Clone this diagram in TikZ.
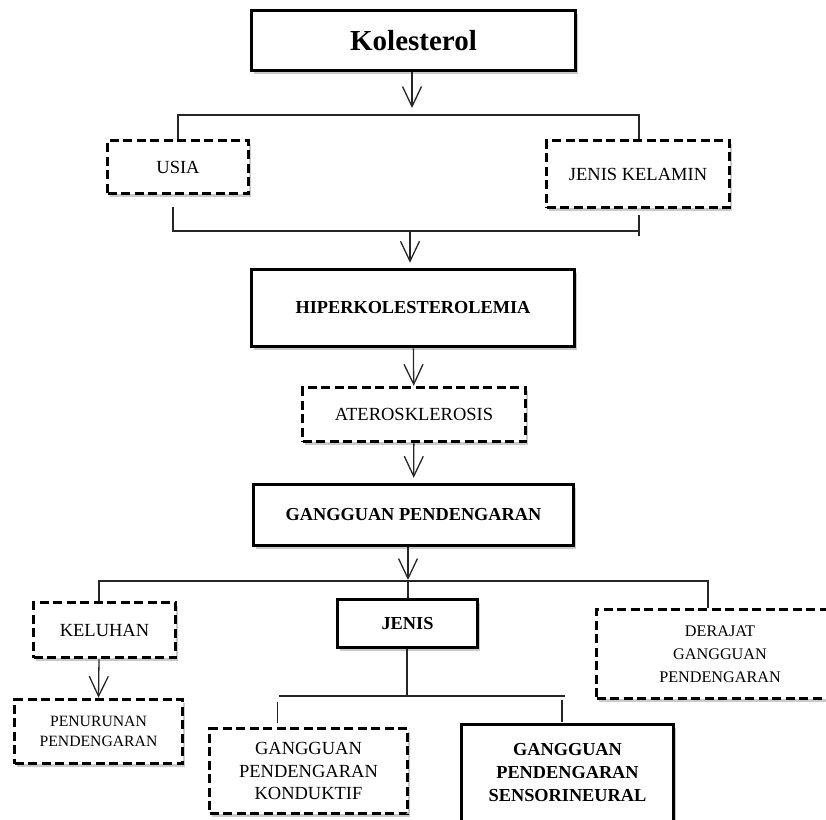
\documentclass[tikz,border=0pt]{standalone}
\usepackage{fontspec}
\setmainfont{Liberation Serif}
\usetikzlibrary{arrows.meta,shadows,calc}

\tikzset{
  box/.style={draw=black, fill=white, line width=3.5pt, align=center, inner sep=0pt,
    drop shadow={shadow xshift=2.5pt, shadow yshift=-3pt, opacity=0.35, fill=black!60}},
  solidbox/.style={box},
  dashbox/.style={box, dash pattern=on 9pt off 4.5pt},
  link/.style={line width=1.3pt, draw=black!85},
  arr/.style={link, -{Straight Barb[length=20pt,width=19pt,line width=1.3pt]}},
  bigtxt/.style={font=\fontsize{29}{34}\selectfont\bfseries},
  txt/.style={font=\fontsize{18.5}{22.5}\selectfont},
  btxt/.style={font=\fontsize{18.3}{23}\selectfont\bfseries},
  smalltxt/.style={font=\fontsize{16.2}{23}\selectfont},
  tinytxt/.style={font=\fontsize{15.7}{19.5}\selectfont},
}

\begin{document}
\begin{tikzpicture}[x=1pt,y=-1pt]
  \useasboundingbox (0,0) rectangle (826,819);
  \node[solidbox, bigtxt, minimum width=324pt, minimum height=60pt] (kol) at (413.5,40.5) {Kolesterol};
  \node[dashbox, txt, minimum width=141pt, minimum height=53pt] (usia) at (178,167) {USIA};
  \node[dashbox, txt, minimum width=183pt, minimum height=67pt] (jk) at (638,174) {JENIS KELAMIN};
  \node[solidbox, btxt, minimum width=323pt, minimum height=77pt] (hiper) at (413,308) {HIPERKOLESTEROLEMIA};
  \node[dashbox, txt, minimum width=223pt, minimum height=54pt] (atero) at (414,414.5) {ATEROSKLEROSIS};
  \node[solidbox, btxt, minimum width=320pt, minimum height=61pt] (gp) at (413.5,515) {GANGGUAN PENDENGARAN};
  \node[dashbox, txt, minimum width=142pt, minimum height=55pt] (kel) at (104.5,630) {KELUHAN};
  \node[solidbox, btxt, minimum width=140pt, minimum height=48pt] (jenis) at (407.5,623.5) {JENIS};
  \node[dashbox, smalltxt, minimum width=247pt, minimum height=89pt] (derajat) at (720,654) {DERAJAT\\GANGGUAN\\PENDENGARAN};
  \node[dashbox, tinytxt, minimum width=168pt, minimum height=64pt] (penur) at (98.5,731.5) {PENURUNAN\\PENDENGARAN};
  \node[dashbox, txt, minimum width=198pt, minimum height=85pt] (kond) at (308.5,771) {GANGGUAN\\PENDENGARAN\\KONDUKTIF};
  \node[solidbox, btxt, minimum width=212pt, minimum height=97pt] (sens) at (567.5,773) {GANGGUAN\\PENDENGARAN\\SENSORINEURAL};

  \coordinate (split1) at (412,115);
  \coordinate (join1) at (410,231);
  \coordinate (split2) at (408,581);
  \coordinate (join2) at (407,696);

  \draw[arr, shorten >=7pt] (kol.south -| split1) -- (split1);
  \draw[link] (usia.north) |- (split1) -| ([xshift=1pt]jk.north);
  \draw[link] ($(usia.south)+(-5,12)$) |- (join1) -- ($(join1 -| jk.south)+(2,0)$);
  \draw[link] ($(jk.south)+(1,6)$) -- ($(jk.south)+(1,27)$);
  \draw[arr, shorten >=5pt] (join1) -- (join1 |- hiper.north);
  \draw[arr] (hiper) -- (atero);
  \draw[arr, shorten >=5pt] (atero) -- (gp);
  \draw[arr, shorten >=1pt] (gp.south -| split2) -- (split2);
  \draw[link] ([xshift=-5.5pt]kel.north) |- (split2) -| ([xshift=-12pt]derajat.north);
  \draw[link] (split2) -- (jenis.north -| split2);
  \draw[arr] ([xshift=-5.5pt]kel.south) -- (penur.north);
  \draw[link] (jenis.south -| join2) -- (join2);
  \draw[link] ($(kond.north |- join2)+(-30,0)$) -- ($(sens.north |- join2)+(-2.5,0)$);
  \draw[link] ($(kond.north)+(-31,-4)$) -- ($(kond.north)+(-31,-25)$);
  \draw[link] ($(sens.north)+(-5.5,-1)$) -- ($(sens.north)+(-5.5,-23)$);
\end{tikzpicture}
\end{document}
